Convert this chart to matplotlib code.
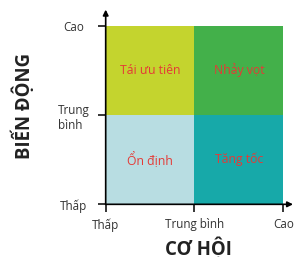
import matplotlib
matplotlib.use('Agg')
from matplotlib import pyplot as plt
from matplotlib.patches import Rectangle

plt.rcParams['font.family'] = ['Open Sans', 'DejaVu Sans']

# mức trên hai trục
tick_levels = [0, 1, 2]
x_tick_labels = ['Thấp', 'Trung bình', 'Cao']
y_tick_labels = ['Thấp', 'Trung\nbình', 'Cao']

# bốn ô: (cơ hội, biến động) góc dưới trái
quad_names = ['Tái ưu tiên', 'Nhảy vọt', 'Ổn định', 'Tăng tốc']
quad_x = [0, 1, 0, 1]
quad_y = [1, 1, 0, 0]
quad_colors = ['#c4d42e', '#43b04a', '#b8dde2', '#17a9a9']

fig = plt.figure(figsize=(2.94, 2.57), dpi=100)
ax = fig.add_axes([0.3595, 0.205, 0.604, 0.695])

for name, qx, qy, col in zip(quad_names, quad_x, quad_y, quad_colors):
    ax.add_patch(Rectangle((qx, qy), 1, 1, facecolor=col, edgecolor='none'))
    ax.text(qx + 0.5, qy + 0.5, name, ha='center', va='center',
            fontsize=8.8, color='#e53a36')

ax.set_xlim(0, 2)
ax.set_ylim(0, 2)
for s in ax.spines.values():
    s.set_visible(False)

# trục có mũi tên
arrow = dict(arrowstyle='-|>', lw=1.2, color='black', mutation_scale=8,
             shrinkA=0, shrinkB=0)
ax.annotate('', xy=(0, 2.18), xytext=(0, 0), arrowprops=arrow, annotation_clip=False)
ax.annotate('', xy=(2.11, 0), xytext=(0, 0), arrowprops=arrow, annotation_clip=False)

ax.set_xticks(tick_levels)
ax.set_xticklabels(x_tick_labels)
ax.set_yticks(tick_levels)
ax.set_yticklabels(y_tick_labels, ha='center', multialignment='left')
ax.tick_params(length=6, width=1.1, color='black', labelsize=8.4,
               labelcolor='#333333')
ax.tick_params(axis='x', pad=4)
ax.tick_params(axis='y', pad=17)

ax.set_xlabel('CƠ HỘI', fontsize=13.4, fontweight='bold', color='#222222')
ax.xaxis.label.set_va('baseline')
ax.xaxis.set_label_coords(0.52, -0.284)
ax.set_ylabel('BIẾN ĐỘNG', fontsize=13.4, fontweight='bold', color='#222222')
ax.yaxis.set_label_coords(-0.40, 0.55)

fig.savefig('out.png', dpi=100)
